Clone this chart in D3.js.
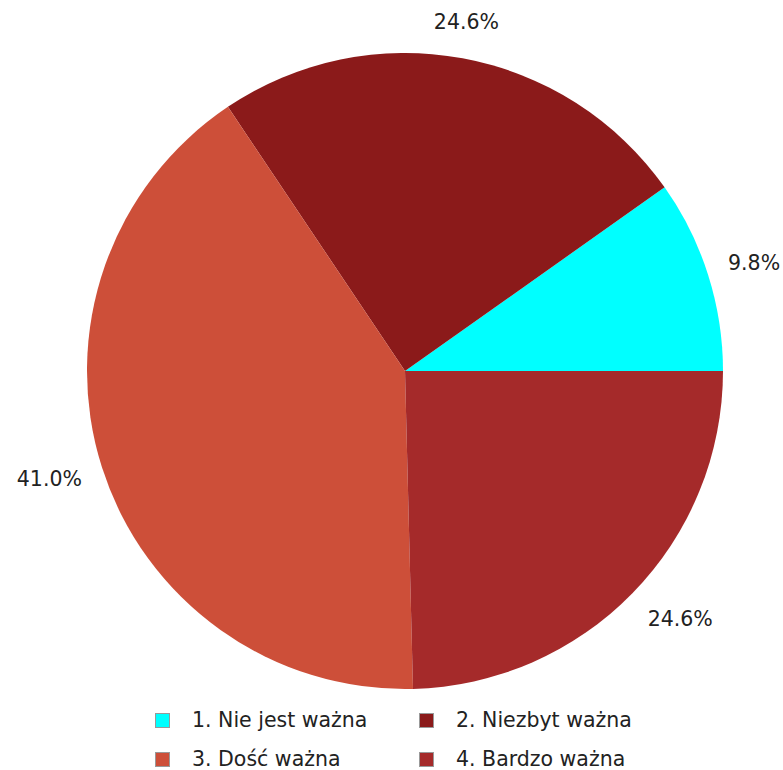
<!DOCTYPE html>
<html><head><meta charset="utf-8">
<script src="https://cdn.jsdelivr.net/npm/d3@7"></script>
<style>body{margin:0;background:#fff}svg{display:block}</style>
</head><body>
<script>
const categories = ["1. Nie jest ważna", "2. Niezbyt ważna", "3. Dość ważna", "4. Bardzo ważna"];
const values = [9.8, 24.6, 41.0, 24.6];
const colors = ["#00FFFF", "#8B1A1A", "#CD4F39", "#A52A2A"];

const W = 783, H = 770;
const cx = 405, cy = 371, R = 318;
const svg = d3.select("body").append("svg").attr("width", W).attr("height", H);
svg.append("rect").attr("width", W).attr("height", H).attr("fill", "#fff");

const pie = d3.pie().sort(null).value(d => d)
  .startAngle(Math.PI / 2).endAngle(Math.PI / 2 - 2 * Math.PI);
const arcs = pie(values);
const arc = d3.arc().innerRadius(0).outerRadius(R);
const g = svg.append("g").attr("transform", `translate(${cx},${cy})`);
g.selectAll("path").data(arcs).enter().append("path")
  .attr("d", arc).attr("fill", (d, i) => colors[i]);

const rx = 339, ry = 355;
const mid = d => (d.startAngle + d.endAngle) / 2;
g.selectAll("text.lbl").data(arcs).enter().append("text")
  .attr("class", "lbl")
  .attr("x", d => rx * Math.sin(mid(d)))
  .attr("y", d => -ry * Math.cos(mid(d)))
  .attr("text-anchor", d => { const s = Math.sin(mid(d)); return s > 0.5 ? "start" : s < -0.5 ? "end" : "middle"; })
  .attr("dominant-baseline", "central")
  .attr("font-family", "DejaVu Sans").attr("font-size", 20.5).attr("fill", "#222")
  .text(d => d.data.toFixed(1) + "%");

const lg = svg.append("g");
const colX = [155, 419], rowY = [713, 752];
categories.forEach((c, i) => {
  const x = colX[i % 2], y = rowY[Math.floor(i / 2)];
  lg.append("rect").attr("x", x + 0.5).attr("y", y + 0.5).attr("width", 14).attr("height", 14)
    .attr("fill", colors[i]).attr("stroke", "#999").attr("stroke-width", 1);
  lg.append("text").attr("x", x + 37).attr("y", y + 14)
    .attr("font-family", "DejaVu Sans").attr("font-size", 20.5).attr("fill", "#222").text(c);
});
</script>
</body></html>
